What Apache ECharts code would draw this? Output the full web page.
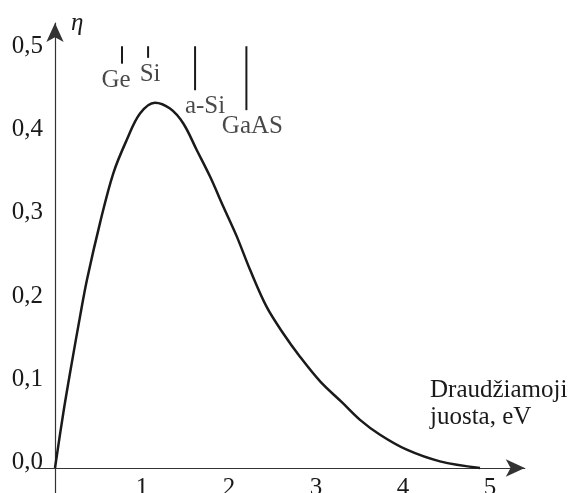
<!DOCTYPE html>
<html lang="lt">
<head>
<meta charset="UTF-8">
<title>Efektyvumas ir draudžiamoji juosta</title>
<script src="https://cdn.jsdelivr.net/npm/echarts@6.0.0/dist/echarts.min.js"></script>
<style>
    html, body { margin: 0; padding: 0; background: #fff; }
    #container { width: 569px; height: 493px; }
</style>
</head>
<body>
<div id="container"></div>
<script>
    // kreivė: efektyvumas pagal draudžiamąją juostą (eV)
    var energy = [0, 0.095, 0.192, 0.287, 0.368, 0.517, 0.67, 0.824, 0.977, 1.149, 1.322, 1.475, 1.629, 1.782, 1.934, 2.089, 2.241, 2.433, 2.624, 2.816, 3.05, 3.3, 3.506, 3.736, 4.043, 4.425, 4.885];
    var efficiency = [0, 0.066, 0.126, 0.182, 0.227, 0.295, 0.355, 0.395, 0.427, 0.44, 0.433, 0.415, 0.383, 0.351, 0.315, 0.279, 0.239, 0.194, 0.162, 0.134, 0.104, 0.079, 0.058, 0.04, 0.022, 0.008, 0];

    // medžiagų žymės
    var materials = ['Ge', 'Si', 'a-Si', 'GaAS'];
    var bandGap = [0.77, 1.07, 1.61, 2.2];
    var markTop = [0.508, 0.508, 0.508, 0.508];
    var markBottom = [0.487, 0.494, 0.455, 0.431];

    var xTicks = [1, 2, 3, 4, 5];
    var yTicks = [0, 0.1, 0.2, 0.3, 0.4, 0.5];

    var serif = "'Liberation Serif', 'DejaVu Serif', serif";
    var ink = '#1a1a1a';
    var labelShift = [-6, 2, 10, 6];

    var chart = echarts.init(document.getElementById('container'));

    var series = [
        {
            type: 'line',
            data: energy.map(function (e, i) { return [e, efficiency[i]]; }),
            smooth: 0.35,
            symbol: 'none',
            lineStyle: { color: ink, width: 2.5 },
            z: 3
        }
    ];

    materials.forEach(function (m, i) {
        series.push({
            type: 'line',
            data: [[bandGap[i], markTop[i]], [bandGap[i], markBottom[i]]],
            symbol: 'none',
            lineStyle: { color: ink, width: 2 },
            z: 3
        });
    });

    series.push({
        type: 'scatter',
        symbolSize: 0,
        data: materials.map(function (m, i) {
            return {
                name: m,
                value: [bandGap[i], markBottom[i]],
                label: { offset: [labelShift[i], 0] }
            };
        }),
        label: {
            show: true,
            position: 'bottom',
            distance: 4,
            formatter: '{b}',
            fontFamily: serif,
            fontSize: 25,
            color: ink
        },
        z: 4
    });

    var option = {
        animation: false,
        grid: {
            left: 37.6,
            right: 44.2,
            top: 23,
            bottom: 0.1,
            containLabel: false,
            outerBoundsMode: 'none'
        },
        xAxis: {
            type: 'value',
            min: -0.2,
            max: 5.4,
            splitLine: { show: false },
            axisTick: { show: false },
            axisLine: {
                onZero: true,
                symbol: ['none', 'arrow'],
                symbolSize: [13, 19],
                lineStyle: { color: '#333', width: 1.2 }
            },
            axisLabel: {
                customValues: xTicks,
                margin: -17,
                fontFamily: serif,
                fontSize: 25,
                color: ink
            }
        },
        yAxis: {
            type: 'value',
            min: -0.03,
            max: 0.536,
            name: 'η',
            nameLocation: 'end',
            nameGap: 0,
            nameTextStyle: {
                fontFamily: serif,
                fontStyle: 'italic',
                fontSize: 25,
                color: ink,
                align: 'left',
                verticalAlign: 'middle',
                padding: [0, 0, 0, 16]
            },
            splitLine: { show: false },
            axisTick: { show: false },
            axisLine: {
                onZero: true,
                symbol: ['none', 'arrow'],
                symbolSize: [13, 19],
                lineStyle: { color: '#333', width: 1.2 }
            },
            axisLabel: {
                customValues: yTicks,
                margin: -5.4,
                verticalAlign: 'bottom',
                lineHeight: 12,
                fontFamily: serif,
                fontSize: 25,
                color: ink,
                formatter: function (v) { return v.toFixed(1).replace('.', ','); }
            }
        },
        graphic: [
            {
                type: 'text',
                left: 430,
                top: 377,
                style: {
                    text: 'Draudžiamoji\njuosta, eV',
                    font: '25px ' + serif,
                    lineHeight: 27,
                    fill: ink
                }
            }
        ],
        series: series
    };

    chart.setOption(option);
</script>
</body>
</html>
